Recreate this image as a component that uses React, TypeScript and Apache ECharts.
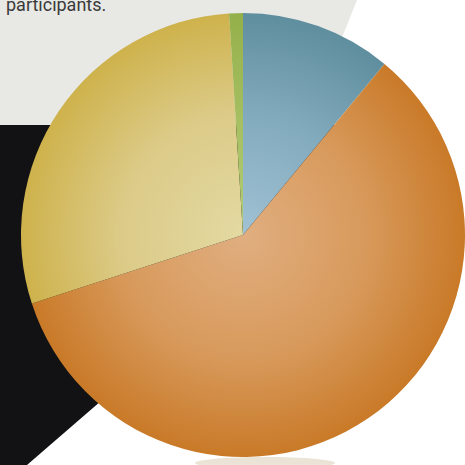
import React, { useEffect, useRef } from "react";
import * as echarts from "echarts";

const categories = ["Blue", "Orange", "Yellow", "Green"];
const values = [11, 59, 29, 1];
const captionText = "participants.";

const CX = 243;
const CY = 235;
const R = 222;

const gradientStops: string[][] = [
  ["#a0c2d4", "#82aabd", "#5f8e9e"],
  ["#e0ae80", "#d89a5c", "#c97a28"],
  ["#e3d9a2", "#dccb88", "#ceb24c"],
  ["#b4cc78", "#a4be60", "#94b04a"],
];

export default function App() {
  const ref = useRef<HTMLDivElement>(null);
  useEffect(() => {
    document.body.style.margin = "0";
    const chart = echarts.init(ref.current!, undefined, { renderer: "svg" });
    const data = categories.map((name, i) => ({
      name,
      value: values[i],
      itemStyle: {
        color: {
          type: "radial",
          x: CX,
          y: CY,
          r: R,
          global: true,
          colorStops: [
            { offset: 0, color: gradientStops[i][0] },
            { offset: 0.55, color: gradientStops[i][1] },
            { offset: 1, color: gradientStops[i][2] },
          ],
        },
      },
    }));
    chart.setOption({
      animation: false,
      backgroundColor: "#ffffff",
      graphic: [
        {
          type: "polygon",
          z: -10,
          shape: { points: [[0, 125], [420, 125], [27, 465], [0, 465]] },
          style: { fill: "#121214" },
        },
        {
          type: "polygon",
          z: -9,
          shape: { points: [[0, 0], [357, 0], [307, 125], [0, 125]] },
          style: { fill: "#e8e8e5" },
        },
        {
          type: "ellipse",
          z: -8,
          shape: { cx: 265, cy: 463, rx: 70, ry: 6 },
          style: { fill: "#ebe3d6" },
        },
        {
          type: "text",
          z: 10,
          x: 6,
          y: 4,
          style: {
            text: captionText,
            fontFamily: "Roboto",
            fontSize: 18,
            fill: "#3a3a3a",
            verticalAlign: "middle",
            align: "left",
          },
        },
      ],
      series: [
        {
          type: "pie",
          center: [CX, CY],
          radius: [0, R],
          startAngle: 90,
          clockwise: true,
          label: { show: false },
          labelLine: { show: false },
          emphasis: { disabled: true },
          itemStyle: { borderWidth: 0 },
          data,
        },
      ],
    });
    return () => chart.dispose();
  }, []);
  return <div ref={ref} style={{ width: 465, height: 465 }} />;
}
